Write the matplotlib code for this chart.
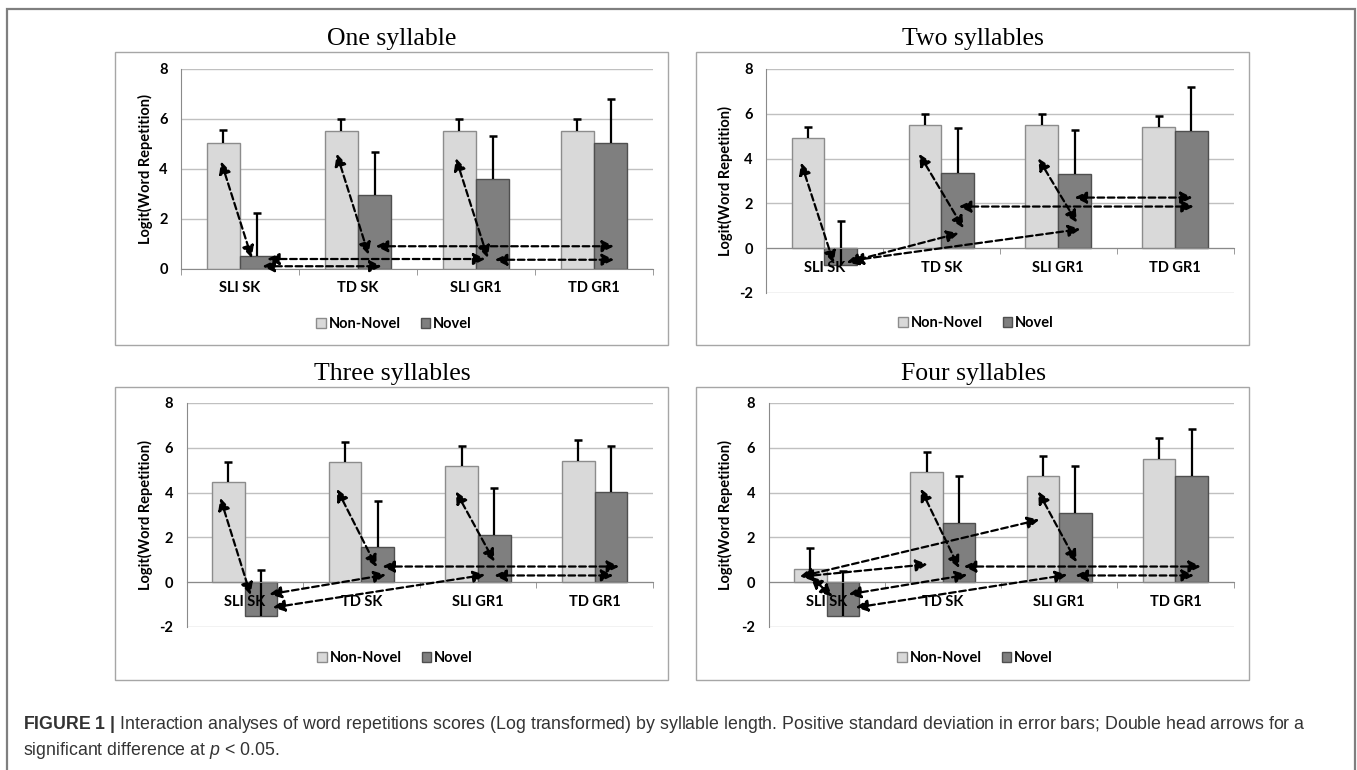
import numpy as np
import matplotlib
matplotlib.use('Agg')
import matplotlib.pyplot as plt
from matplotlib.patches import Rectangle

plt.rcParams['mathtext.fontset'] = 'custom'
plt.rcParams['mathtext.rm'] = 'Liberation Sans'
plt.rcParams['mathtext.it'] = 'Liberation Sans:italic'
plt.rcParams['mathtext.bf'] = 'Liberation Sans:bold'

# ---- data ----
groups = ['SLI SK', 'TD SK', 'SLI GR1', 'TD GR1']
series = ['Non-Novel', 'Novel']
titles = ['One syllable', 'Two syllables', 'Three syllables', 'Four syllables']
ymins = [0, -2, -2, -2]

# mean logit scores
nonnovel_1 = [5.06, 5.53, 5.50, 5.50]
novel_1 = [0.51, 2.94, 3.61, 5.06]
nonnovel_2 = [4.91, 5.50, 5.50, 5.41]
novel_2 = [-0.77, 3.35, 3.30, 5.23]
nonnovel_3 = [4.47, 5.35, 5.17, 5.42]
novel_3 = [-1.53, 1.56, 2.12, 4.01]
nonnovel_4 = [0.60, 4.90, 4.75, 5.50]
novel_4 = [-1.53, 2.64, 3.08, 4.75]

# positive standard deviations
sd_nonnovel_1 = [0.51, 0.47, 0.49, 0.49]
sd_novel_1 = [1.73, 1.73, 1.72, 1.73]
sd_nonnovel_2 = [0.49, 0.48, 0.48, 0.49]
sd_novel_2 = [2.00, 2.00, 1.98, 1.98]
sd_nonnovel_3 = [0.90, 0.91, 0.93, 0.91]
sd_novel_3 = [2.08, 2.08, 2.08, 2.09]
sd_nonnovel_4 = [0.92, 0.90, 0.90, 0.92]
sd_novel_4 = [2.05, 2.08, 2.09, 2.09]

# significant differences (double head arrows), x in category units: x0, y0, x1, y1
arrows_1 = [(-0.16, 4.30, 0.10, 0.44), (0.82, 4.61, 1.09, 0.57), (1.83, 4.43, 2.10, 0.44),
            (0.23, 0.40, 2.08, 0.40), (0.19, 0.11, 1.20, 0.11), (1.15, 0.91, 3.17, 0.91),
            (2.16, 0.37, 3.17, 0.37)]
arrows_2 = [(-0.20, 3.82, 0.08, -0.67), (0.81, 4.21, 1.19, 0.89), (1.83, 4.01, 2.16, 1.14),
            (0.19, -0.64, 1.15, 0.67), (0.23, -0.55, 2.19, 0.85), (1.15, 1.86, 3.16, 1.86),
            (2.14, 2.26, 3.15, 2.26)]
arrows_3 = [(-0.21, 3.76, 0.05, -0.57), (0.79, 4.16, 1.13, 0.67), (1.81, 4.05, 2.14, 0.92),
            (0.21, -0.54, 1.21, 0.33), (0.24, -1.13, 2.06, 0.33), (1.18, 0.70, 3.21, 0.70),
            (2.14, 0.30, 3.16, 0.30)]
arrows_4 = [(-0.23, 0.25, 1.83, 2.79), (-0.22, 0.25, 0.87, 0.80), (-0.14, 0.25, 0.05, -0.64),
            (0.81, 4.17, 1.14, 0.63), (1.82, 4.05, 2.15, 0.89), (0.19, -0.54, 1.21, 0.33),
            (0.25, -1.13, 2.07, 0.33), (1.18, 0.70, 3.22, 0.70), (2.14, 0.30, 3.16, 0.30)]

nonnovel = [nonnovel_1, nonnovel_2, nonnovel_3, nonnovel_4]
novel = [novel_1, novel_2, novel_3, novel_4]
sd_nonnovel = [sd_nonnovel_1, sd_nonnovel_2, sd_nonnovel_3, sd_nonnovel_4]
sd_novel = [sd_novel_1, sd_novel_2, sd_novel_3, sd_novel_4]
arrows = [arrows_1, arrows_2, arrows_3, arrows_4]

caption_1 = (r'$\mathbf{FIGURE\ 1\ |}$ Interaction analyses of word repetitions scores (Log transformed) '
             r'by syllable length. Positive standard deviation in error bars; Double head arrows for a')
caption_2 = r'significant difference at $p$ < 0.05.'

# ---- layout (pixels, from top-left) ----
W, H = 1357, 770
fig = plt.figure(figsize=(W / 100, H / 100), dpi=100)


def fx(x):
    return x / W


def fy(y):
    return 1 - y / H


axes_px = [(181, 69, 653, 269), (766, 69, 1233.5, 293),
           (186.5, 403, 653, 627), (768.5, 403, 1233.5, 627)]
boxes_px = [(115, 52, 668, 345), (696, 52, 1249, 345),
            (115, 387, 668, 680), (696, 387, 1249, 680)]
title_px = [(392, 45), (973, 45), (392, 380), (973, 380)]
legend_px = [(394, 324), (976, 323), (395, 658), (975, 658)]
ylab_px = [(145, 169), (725, 181), (145, 515), (725, 515)]

c_nn, e_nn = '#d9d9d9', '#8c8c8c'
c_nv, e_nv = '#7f7f7f', '#4f4f4f'
axis_col = '#8a8a8a'
grid_col = '#c0c0c0'
lab_font = dict(family='Lato', weight='bold', size=10.5)

# outer frame
fig.add_artist(Rectangle((fx(7), fy(790)), (1355 - 7) / W, (790 - 9) / H, fill=False,
                         ec='#7f7f7f', lw=1.6, transform=fig.transFigure))

x = np.arange(len(groups))
bw = 0.28


def sd_bars(ax, xpos, vals, sd):
    # positive-only error bars: stem from the bar end up, cap on top only
    vals = np.asarray(vals)
    tops = vals + np.asarray(sd)
    ax.vlines(xpos, vals, tops, colors='black', lw=1.6, zorder=3)
    ax.plot(xpos, tops, ls='none', marker='_', ms=6, mew=1.8, color='black', zorder=3)


for i in range(4):
    bl, bt, br, bb = boxes_px[i]
    fig.add_artist(Rectangle((fx(bl), fy(bb)), (br - bl) / W, (bb - bt) / H, fill=False,
                             ec='#a6a6a6', lw=1.0, transform=fig.transFigure))

    l, t, r, b = axes_px[i]
    ax = fig.add_axes([fx(l), fy(b), (r - l) / W, (b - t) / H])
    ax.set_facecolor('none')

    ax.bar(x - bw / 2, nonnovel[i], bw, color=c_nn, edgecolor=e_nn, lw=1, zorder=2)
    ax.bar(x + bw / 2, novel[i], bw, color=c_nv, edgecolor=e_nv, lw=1, zorder=2)
    sd_bars(ax, x - bw / 2, nonnovel[i], sd_nonnovel[i])
    sd_bars(ax, x + bw / 2, novel[i], sd_novel[i])

    for x0, y0, x1, y1 in arrows[i]:
        ax.annotate('', xy=(x1, y1), xytext=(x0, y0), zorder=6,
                    arrowprops=dict(arrowstyle='<|-|>,head_length=0.55,head_width=0.27',
                                    linestyle=(0, (3, 1.6)), lw=1.6, color='black',
                                    shrinkA=0, shrinkB=0, mutation_scale=13))

    ax.set_xlim(-0.5, 3.5)
    ax.set_ylim(ymins[i], 8)
    yt = list(range(ymins[i], 9, 2))
    ax.set_yticks(yt)
    ax.set_yticklabels([str(v) for v in yt], fontdict=lab_font)
    ax.yaxis.grid(True, color=grid_col, lw=1)
    ax.set_axisbelow(True)
    ax.xaxis.set_zorder(4.5)  # category labels sit on top of the bars, as in Excel
    for s in ['top', 'right']:
        ax.spines[s].set_visible(False)
    ax.spines['bottom'].set_position(('data', 0))
    ax.spines['bottom'].set_color(axis_col)
    ax.spines['left'].set_color(axis_col)
    ax.spines['bottom'].set_zorder(4)

    ax.set_xticks(x)
    ax.set_xticklabels(groups, fontdict=lab_font)
    ax.set_xticks(np.arange(-0.5, 4, 1), minor=True)
    ax.tick_params(axis='x', which='major', length=0, pad=9)
    ax.tick_params(axis='x', which='minor', length=4, color=axis_col, direction='out')
    ax.tick_params(axis='y', length=0, pad=9.5)

    fig.text(fx(ylab_px[i][0]), fy(ylab_px[i][1]), 'Logit(Word Repetition)', rotation=90,
             ha='center', va='center', fontdict=lab_font)
    fig.text(fx(title_px[i][0]), fy(title_px[i][1]), titles[i], ha='center', va='baseline',
             family='Liberation Serif', size=18.5)

    handles = [Rectangle((0, 0), 1, 1, fc=c_nn, ec=e_nn, lw=1),
               Rectangle((0, 0), 1, 1, fc=c_nv, ec=e_nv, lw=1)]
    fig.legend(handles, series, loc='center', bbox_to_anchor=(fx(legend_px[i][0]), fy(legend_px[i][1])),
               ncol=2, frameon=False, prop=lab_font, handlelength=0.65, handleheight=0.65,
               handletextpad=0.2, columnspacing=1.4, borderpad=0)

fig.text(fx(23), fy(729), caption_1, ha='left', va='baseline', family='Liberation Sans',
         size=12.8, color='#333333')
fig.text(fx(23), fy(755), caption_2, ha='left', va='baseline', family='Liberation Sans',
         size=12.8, color='#333333')

fig.savefig('out.png', dpi=100, facecolor='white')
